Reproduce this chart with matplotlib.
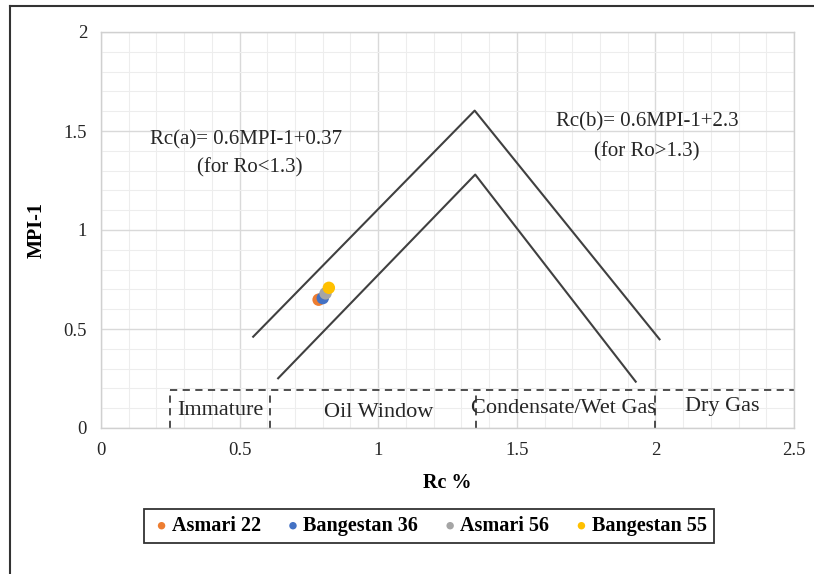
import matplotlib
matplotlib.use('Agg')
import matplotlib.pyplot as plt
from matplotlib.lines import Line2D
from matplotlib.ticker import MultipleLocator

plt.rcParams['font.family'] = ['Liberation Serif', 'DejaVu Serif']

# 样品数据 (Rc %, MPI-1)
samples = ['Asmari 22', 'Bangestan 36', 'Asmari 56', 'Bangestan 55']
rc_vals = [0.785, 0.80, 0.81, 0.822]
mpi_vals = [0.648, 0.656, 0.68, 0.708]
colors = ['#ed7d31', '#4472c4', '#a5a5a5', '#ffc000']

# 成熟度折线 (上/下边界)
upper_x = [0.549, 1.348, 2.015]
upper_y = [0.461, 1.603, 0.448]
lower_x = [0.639, 1.35, 1.929]
lower_y = [0.251, 1.28, 0.234]

# 分区虚线
zone_top = 0.19
zone_start = 0.25
zone_bounds = [0.25, 0.61, 1.352, 2.0]
zone_names = ['Immature', 'Oil Window', 'Condensate/Wet Gas', 'Dry Gas']
zone_text_x = [0.43, 1.0, 1.67, 2.24]
zone_text_y = [0.09, 0.08, 0.10, 0.11]

fig = plt.figure(figsize=(8.14, 5.74), dpi=100)
ax = fig.add_axes([101 / 814, 1 - 428 / 574, 693 / 814, 396 / 574])

ax.set_xlim(0, 2.5)
ax.set_ylim(0, 2)
ax.xaxis.set_major_locator(MultipleLocator(0.5))
ax.yaxis.set_major_locator(MultipleLocator(0.5))
ax.xaxis.set_minor_locator(MultipleLocator(0.1))
ax.yaxis.set_minor_locator(MultipleLocator(0.1))
ax.grid(which='major', color='#d9d9d9', lw=1.0)
ax.grid(which='minor', color='#ededed', lw=0.8)
ax.set_axisbelow(True)
for s in ax.spines.values():
    s.set_color('#d0d0d0')
    s.set_linewidth(1.0)
ax.tick_params(which='both', length=0, labelsize=13.5, pad=10, labelcolor='#262626')
ax.set_xticks([0, 0.5, 1, 1.5, 2, 2.5])
ax.set_xticklabels(['0', '0.5', '1', '1.5', '2', '2.5'])
ax.set_yticks([0, 0.5, 1, 1.5, 2])
ax.set_yticklabels(['0', '0.5', '1', '1.5', '2'])

# 折线
ax.plot(upper_x, upper_y, color='#404040', lw=1.5)
ax.plot(lower_x, lower_y, color='#404040', lw=1.5)

# 分区
ax.plot([zone_start, 2.5], [zone_top, zone_top], color='#404040', lw=1.3, ls=(0, (4, 3)))
for b in zone_bounds:
    ax.plot([b, b], [0, zone_top], color='#404040', lw=1.3, ls=(0, (4, 3)))
for name, tx, ty in zip(zone_names, zone_text_x, zone_text_y):
    ax.text(tx, ty, name, ha='center', va='center', fontsize=16, color='#262626')

# 公式
ax.text(0.525, 1.455, 'Rc(a)= 0.6MPI-1+0.37', ha='center', va='center', fontsize=15, color='#262626')
ax.text(0.535, 1.313, '(for Ro<1.3)', ha='center', va='center', fontsize=15, color='#262626')
ax.text(1.97, 1.545, 'Rc(b)= 0.6MPI-1+2.3', ha='center', va='center', fontsize=15, color='#262626')
ax.text(1.97, 1.394, '(for Ro>1.3)', ha='center', va='center', fontsize=15, color='#262626')

# 样品点
for name, x, y, c in zip(samples, rc_vals, mpi_vals, colors):
    ax.scatter([x], [y], s=80, color=c, label=name, zorder=5, edgecolors='none')

ax.set_xlabel('Rc %', fontsize=14.5, fontweight='bold', labelpad=10)
ax.set_ylabel('MPI-1', fontsize=14.5, fontweight='bold', labelpad=12)

leg = ax.legend(loc='center', bbox_to_anchor=(429 / 814, 1 - 526 / 574), bbox_transform=fig.transFigure,
                ncol=4, frameon=True, fancybox=False, edgecolor='black',
                prop={'weight': 'bold', 'size': 14.5}, handletextpad=0.0, columnspacing=1.1,
                markerscale=0.6, borderpad=0.35, handlelength=1.0)
leg.get_frame().set_linewidth(1.3)

# 外边框
fig.add_artist(Line2D([10 / 814, 10 / 814], [0, 1 - 6 / 574], transform=fig.transFigure, color='#333333', lw=1.5))
fig.add_artist(Line2D([10 / 814, 1], [1 - 6 / 574, 1 - 6 / 574], transform=fig.transFigure, color='#333333', lw=1.5))

fig.savefig('out.png', dpi=100)
